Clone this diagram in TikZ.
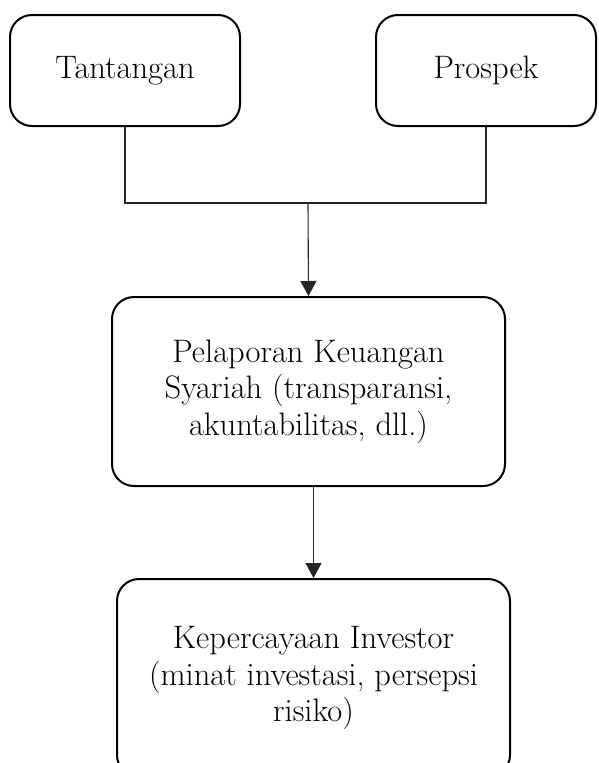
\documentclass[tikz,border=0pt]{standalone}
\usetikzlibrary{arrows.meta}
\begin{document}
\begin{tikzpicture}[x=1pt,y=-1pt,
  box/.style={draw=black, line width=2pt, rounded corners=22pt, align=center,
    font=\fontsize{32.5}{36.5}\selectfont, inner sep=0pt},
  link/.style={draw=black!85, line width=1.1pt},
  arr/.style={link, -{Triangle[width=16pt,length=15pt]}}]
\useasboundingbox (0,0) rectangle (598,763);
\clip (0,0) rectangle (598,763);
\node[box, minimum width=230pt, minimum height=111pt] (tan) at (125,70.5) {Tantangan};
\node[box, minimum width=220pt, minimum height=111pt] (pro) at (486,70.5) {Prospek};
\node[box, minimum width=393pt, minimum height=189pt] (mid) at (308.5,391.5)
  {Pelaporan Keuangan\\Syariah (transparansi,\\akuntabilitas, dll.)};
\node[box, minimum width=393pt, minimum height=198pt] (bot) at (313.5,678)
  {Kepercayaan Investor\\(minat investasi, persepsi\\risiko)};
\coordinate (j) at (308,203);
\draw[link] (tan.south) |- (j) -| (pro.south);
\draw[arr] (j) -- (mid.north);
\draw[arr] (bot.north |- mid.south) -- (bot.north);
\end{tikzpicture}
\end{document}
